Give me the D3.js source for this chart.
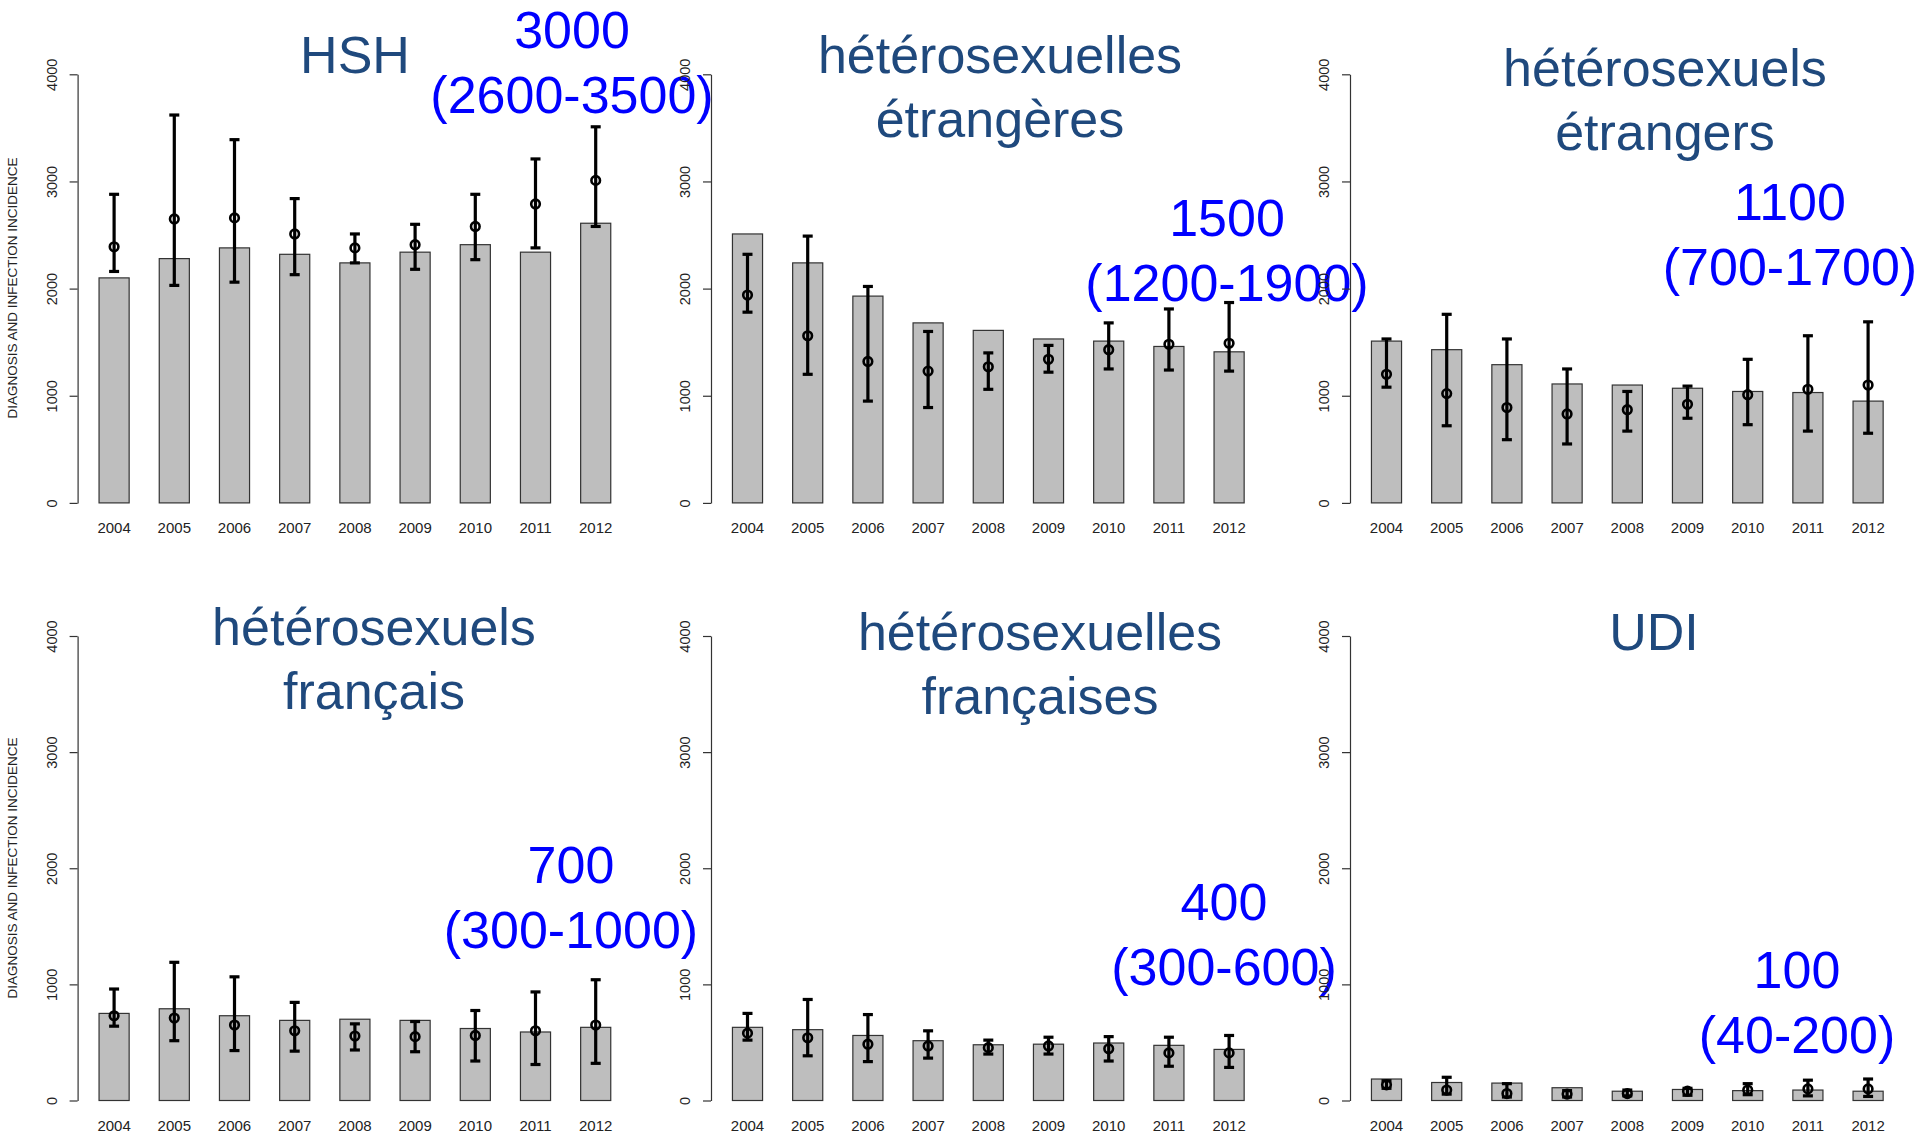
<!DOCTYPE html>
<html><head><meta charset="utf-8">
<script src="https://cdn.jsdelivr.net/npm/d3@7"></script>
<style>body{margin:0;background:#fff}svg{display:block}</style>
</head><body>
<svg id="c" width="1917" height="1138"></svg>
<script>
const years = [2004, 2005, 2006, 2007, 2008, 2009, 2010, 2011, 2012];
const yTicks = [0, 1000, 2000, 3000, 4000];
const yLabel = "DIAGNOSIS AND INFECTION INCIDENCE";

const titles = [["HSH"], ["hétérosexuelles", "étrangères"], ["hétérosexuels", "étrangers"],
                ["hétérosexuels", "français"], ["hétérosexuelles", "françaises"], ["UDI"]];
const annotations = [["3000", "(2600-3500)"], ["1500", "(1200-1900)"], ["1100", "(700-1700)"],
                     ["700", "(300-1000)"], ["400", "(300-600)"], ["100", "(40-200)"]];

// diagnoses (bars)
const diagHSH = [2100, 2280, 2380, 2320, 2240, 2340, 2410, 2340, 2610];
const diagHetFEtr = [2510, 2240, 1930, 1680, 1610, 1530, 1510, 1460, 1410];
const diagHetMEtr = [1510, 1430, 1290, 1110, 1100, 1070, 1040, 1030, 950];
const diagHetMFr = [750, 790, 730, 690, 700, 690, 620, 590, 630];
const diagHetFFr = [630, 610, 560, 515, 480, 485, 495, 475, 440];
const diagUDI = [185, 155, 150, 110, 80, 95, 85, 90, 80];

// incidence estimates (points)
const incHSH = [2390, 2650, 2660, 2510, 2380, 2410, 2580, 2790, 3010];
const incHetFEtr = [1940, 1560, 1320, 1230, 1270, 1340, 1430, 1480, 1490];
const incHetMEtr = [1200, 1020, 890, 830, 870, 920, 1010, 1060, 1100];
const incHetMFr = [730, 710, 650, 600, 555, 550, 560, 600, 650];
const incHetFFr = [580, 540, 485, 470, 455, 470, 445, 410, 410];
const incUDI = [135, 90, 60, 55, 60, 80, 90, 100, 100];

// lower bounds
const loHSH = [2160, 2030, 2060, 2130, 2240, 2180, 2270, 2380, 2580];
const loHetFEtr = [1780, 1200, 950, 890, 1060, 1220, 1250, 1240, 1230];
const loHetMEtr = [1080, 720, 590, 550, 670, 790, 730, 670, 650];
const loHetMFr = [640, 515, 430, 425, 435, 420, 340, 310, 320];
const loHetFFr = [520, 385, 335, 365, 400, 400, 340, 295, 285];
const loUDI = [105, 55, 30, 30, 40, 45, 50, 40, 35];

// upper bounds
const hiHSH = [2880, 3620, 3390, 2840, 2510, 2600, 2880, 3210, 3510];
const hiHetFEtr = [2320, 2490, 2020, 1600, 1400, 1470, 1680, 1810, 1870];
const hiHetMEtr = [1530, 1760, 1530, 1250, 1040, 1090, 1340, 1560, 1690];
const hiHetMFr = [960, 1190, 1065, 845, 660, 680, 775, 935, 1040];
const hiHetFFr = [750, 870, 740, 600, 520, 545, 550, 545, 560];
const hiUDI = [170, 200, 145, 85, 90, 105, 145, 175, 185];

const diag = [diagHSH, diagHetFEtr, diagHetMEtr, diagHetMFr, diagHetFFr, diagUDI];
const inc = [incHSH, incHetFEtr, incHetMEtr, incHetMFr, incHetFFr, incUDI];
const lo = [loHSH, loHetFEtr, loHetMEtr, loHetMFr, loHetFFr, loUDI];
const hi = [hiHSH, hiHetFEtr, hiHetMEtr, hiHetMFr, hiHetFFr, hiUDI];

// layout (positions only)
const layout = [
  {ax: 77.6, y0: 502.9, y1: 74.3, tx: 355, ty: 73, ax2: 572, ay: 48, ylab: 288},
  {ax: 711, y0: 502.9, y1: 74.3, tx: 1000, ty: 73, ax2: 1227, ay: 236},
  {ax: 1350, y0: 502.9, y1: 74.3, tx: 1665, ty: 86, ax2: 1790, ay: 220},
  {ax: 77.6, y0: 1100.5, y1: 636, tx: 374, ty: 645, ax2: 571, ay: 883, ylab: 868},
  {ax: 711, y0: 1100.5, y1: 636, tx: 1040, ty: 650, ax2: 1224, ay: 920},
  {ax: 1350, y0: 1100.5, y1: 636, tx: 1654, ty: 650, ax2: 1797, ay: 988}
];

const svg = d3.select("#c");
const FONT = "'Liberation Sans', Arial, Helvetica, sans-serif";
const step = 60.2;

layout.forEach((L, p) => {
  const g = svg.append("g");
  const r0 = L.ax + 6.4;
  const x = d3.scaleBand().domain(years).range([r0, r0 + 9 * step]).paddingInner(0.5).paddingOuter(0.25);
  const y = d3.scaleLinear().domain([0, 4000]).range([L.y0, L.y1]);

  // y axis
  const yAxis = d3.axisLeft(y).tickValues(yTicks).tickSize(8).tickSizeOuter(0).tickFormat(d3.format("d"));
  const ga = g.append("g").attr("transform", `translate(${L.ax},0)`).call(yAxis);
  ga.select(".domain").attr("stroke", "#333").attr("stroke-width", 1.2);
  ga.selectAll(".tick line").attr("stroke", "#333").attr("stroke-width", 1.2);
  ga.selectAll(".tick text")
    .attr("x", null).attr("dy", null)
    .attr("transform", "translate(-26,0) rotate(-90)")
    .attr("text-anchor", "middle").attr("dominant-baseline", "central")
    .attr("font-family", FONT).attr("font-size", 14.5).attr("fill", "#222");

  // x labels (no axis line)
  const xAxis = d3.axisBottom(x).tickSize(0).tickPadding(0);
  const gx = g.append("g").attr("transform", `translate(0,${L.y0 + 25})`).call(xAxis);
  gx.select(".domain").remove();
  gx.selectAll(".tick text").attr("y", 0).attr("dy", null)
    .attr("dominant-baseline", "central")
    .attr("font-family", FONT).attr("font-size", 15).attr("fill", "#222");

  // bars
  g.append("g").selectAll("rect").data(years).join("rect")
    .attr("x", d => x(d)).attr("width", x.bandwidth())
    .attr("y", (d, i) => y(diag[p][i])).attr("height", (d, i) => y(0) - y(diag[p][i]))
    .attr("fill", "#bebebe").attr("stroke", "#333").attr("stroke-width", 1.2);

  // error bars
  const cx = d => x(d) + x.bandwidth() / 2;
  const eg = g.append("g").attr("stroke", "#000").attr("stroke-width", 3.2).attr("fill", "none");
  eg.selectAll("line.v").data(years).join("line").attr("class", "v")
    .attr("x1", cx).attr("x2", cx)
    .attr("y1", (d, i) => y(lo[p][i])).attr("y2", (d, i) => y(hi[p][i]));
  eg.selectAll("line.h").data(years).join("line").attr("class", "h")
    .attr("x1", d => cx(d) - 5).attr("x2", d => cx(d) + 5)
    .attr("y1", (d, i) => y(hi[p][i])).attr("y2", (d, i) => y(hi[p][i]));
  eg.selectAll("line.l").data(years).join("line").attr("class", "l")
    .attr("x1", d => cx(d) - 5).attr("x2", d => cx(d) + 5)
    .attr("y1", (d, i) => y(lo[p][i])).attr("y2", (d, i) => y(lo[p][i]));
  eg.selectAll("circle").data(years).join("circle")
    .attr("cx", cx).attr("cy", (d, i) => y(inc[p][i])).attr("r", 4.3)
    .attr("stroke-width", 2.6);

  // y label
  if (L.ylab !== undefined) {
    g.append("text").attr("transform", `translate(12,${L.ylab}) rotate(-90)`)
      .attr("text-anchor", "middle").attr("dominant-baseline", "central")
      .attr("font-family", FONT).attr("font-size", 13.5).attr("fill", "#222")
      .text(yLabel);
  }

  // title
  g.append("g").selectAll("text").data(titles[p]).join("text")
    .attr("x", L.tx).attr("y", (d, i) => L.ty + i * 63.6)
    .attr("text-anchor", "middle").attr("font-family", FONT).attr("font-size", 52)
    .attr("fill", "#1F497D").text(d => d);

  // annotation
  g.append("g").selectAll("text").data(annotations[p]).join("text")
    .attr("x", L.ax2).attr("y", (d, i) => L.ay + i * 64.5)
    .attr("text-anchor", "middle").attr("font-family", FONT).attr("font-size", 52)
    .attr("fill", "#0000FF").text(d => d);
});
</script>
</body></html>
